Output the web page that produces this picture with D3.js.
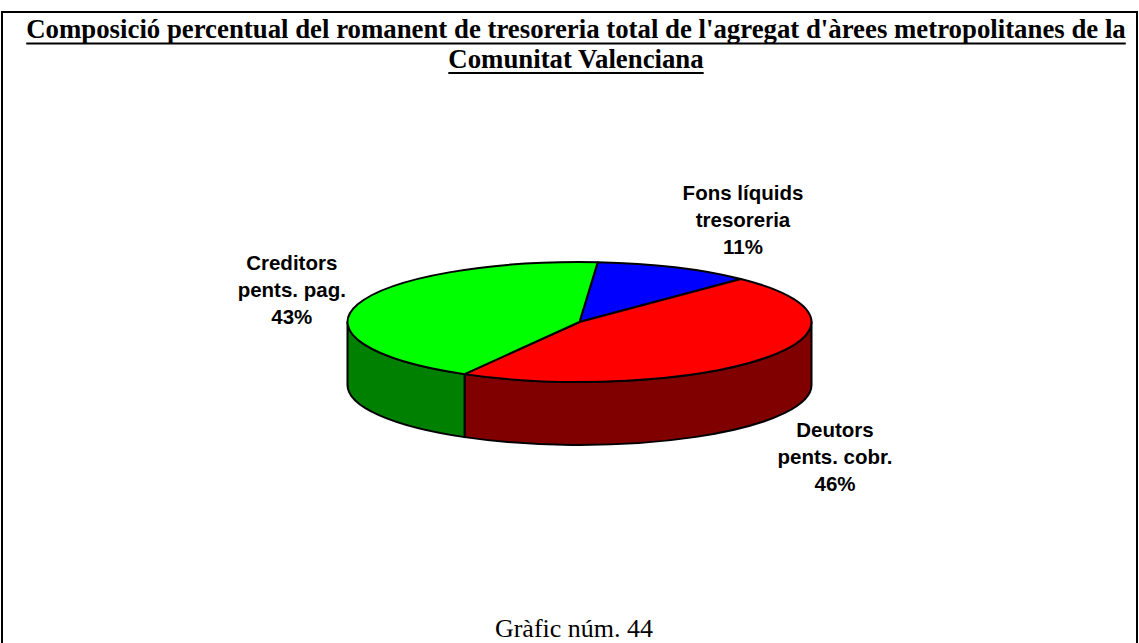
<!DOCTYPE html>
<html>
<head>
<meta charset="utf-8">
<script src="https://cdn.jsdelivr.net/npm/d3@7/dist/d3.min.js"></script>
<style>
  html, body { margin: 0; padding: 0; background: #ffffff; }
  svg { display: block; }
</style>
</head>
<body>
<svg id="chart" width="1139" height="643"></svg>
<script>
// Data: share of each component of the total treasury surplus
const categories = ["Fons líquids tresoreria", "Deutors pents. cobr.", "Creditors pents. pag."];
const labelLines = [["Fons líquids", "tresoreria"], ["Deutors", "pents. cobr."], ["Creditors", "pents. pag."]];
const values = [11, 46, 43];
const topColors = ["#0000ff", "#ff0000", "#00ff00"];
const sideColors = ["#000080", "#800000", "#008000"];
const titleLines = [
  "Composició percentual del romanent de tresoreria total de l'agregat d'àrees metropolitanes de la",
  "Comunitat Valenciana"
];
const footerText = "Gràfic núm. 44";

// Layout of the tilted pie
const W = 1139, H = 643;
const cx = 579.5, cy = 322, rx = 232, ry = 60, depth = 63;
const startDeg = 4.5;
// label block offsets (centre x, middle baseline) from the slice's outer edge point
const labelOffsets = [[68, -40], [70, 43], [-66, -7]];
const labelLineGap = 27;

const svg = d3.select("#chart");

// Frame
svg.append("rect")
  .attr("x", 2).attr("y", 12)
  .attr("width", 1135).attr("height", 700)
  .attr("fill", "none").attr("stroke", "#000").attr("stroke-width", 2);

// Title (bold, underlined)
const titleBaselines = [38, 67.5];
titleLines.forEach((t, i) => {
  const txt = svg.append("text")
    .attr("x", 576).attr("y", titleBaselines[i])
    .attr("text-anchor", "middle")
    .attr("font-family", "'Liberation Serif', 'Times New Roman', serif")
    .attr("font-weight", "bold")
    .attr("font-size", 26.8)
    .attr("fill", "#000")
    .text(t);
  const w = txt.node().getComputedTextLength();
  svg.append("line")
    .attr("x1", 576 - w / 2).attr("x2", 576 + w / 2)
    .attr("y1", titleBaselines[i] + 5.5).attr("y2", titleBaselines[i] + 5.5)
    .attr("stroke", "#000").attr("stroke-width", 2);
});

// Pie angles
const start = startDeg * Math.PI / 180;
const pie = d3.pie().sort(null).value(d => d)
  .startAngle(start).endAngle(start + 2 * Math.PI);
const arcs = pie(values);

const pt = (a, dy = 0) => [cx + rx * Math.sin(a), cy - ry * Math.cos(a) + dy];

// Visible front wall of each slice (between 90° and 270°)
const sides = svg.append("g");
arcs.forEach((d, i) => {
  const s0 = Math.max(d.startAngle, Math.PI / 2);
  const s1 = Math.min(d.endAngle, 3 * Math.PI / 2);
  if (s1 <= s0) return;
  const p0 = pt(s0), p1 = pt(s1), q1 = pt(s1, depth), q0 = pt(s0, depth);
  const dstr = `M${p0[0]},${p0[1]} A${rx},${ry} 0 0 1 ${p1[0]},${p1[1]} ` +
               `L${q1[0]},${q1[1]} A${rx},${ry} 0 0 0 ${q0[0]},${q0[1]} Z`;
  sides.append("path")
    .attr("d", dstr)
    .attr("fill", sideColors[i])
    .attr("stroke", "#000").attr("stroke-width", 2)
    .attr("stroke-linejoin", "round");
});

// Top faces
const tops = svg.append("g");
arcs.forEach((d, i) => {
  const p0 = pt(d.startAngle), p1 = pt(d.endAngle);
  const large = (d.endAngle - d.startAngle) > Math.PI ? 1 : 0;
  const dstr = `M${cx},${cy} L${p0[0]},${p0[1]} A${rx},${ry} 0 ${large} 1 ${p1[0]},${p1[1]} Z`;
  tops.append("path")
    .attr("d", dstr)
    .attr("fill", topColors[i])
    .attr("stroke", "#000").attr("stroke-width", 2)
    .attr("stroke-linejoin", "round");
});

// Data labels
const labels = svg.append("g")
  .attr("font-family", "'Liberation Sans', Arial, sans-serif")
  .attr("font-weight", "bold")
  .attr("font-size", 20.5)
  .attr("fill", "#000")
  .attr("text-anchor", "middle");
arcs.forEach((d, i) => {
  const mid = (d.startAngle + d.endAngle) / 2;
  const front = Math.cos(mid) < 0;
  const edge = pt(mid, front ? depth : 0);
  const lx = edge[0] + labelOffsets[i][0];
  const ly = edge[1] + labelOffsets[i][1];
  const lines = labelLines[i].concat([d3.format(".0f")(values[i]) + "%"]);
  const t = labels.append("text");
  lines.forEach((s, k) => {
    t.append("tspan")
      .attr("x", lx)
      .attr("y", ly + (k - 1) * labelLineGap)
      .text(s);
  });
});

// Footer
svg.append("text")
  .attr("x", 574).attr("y", 636.5)
  .attr("text-anchor", "middle")
  .attr("font-family", "'Liberation Serif', 'Times New Roman', serif")
  .attr("font-size", 26)
  .attr("fill", "#000")
  .text(footerText);
</script>
</body>
</html>
